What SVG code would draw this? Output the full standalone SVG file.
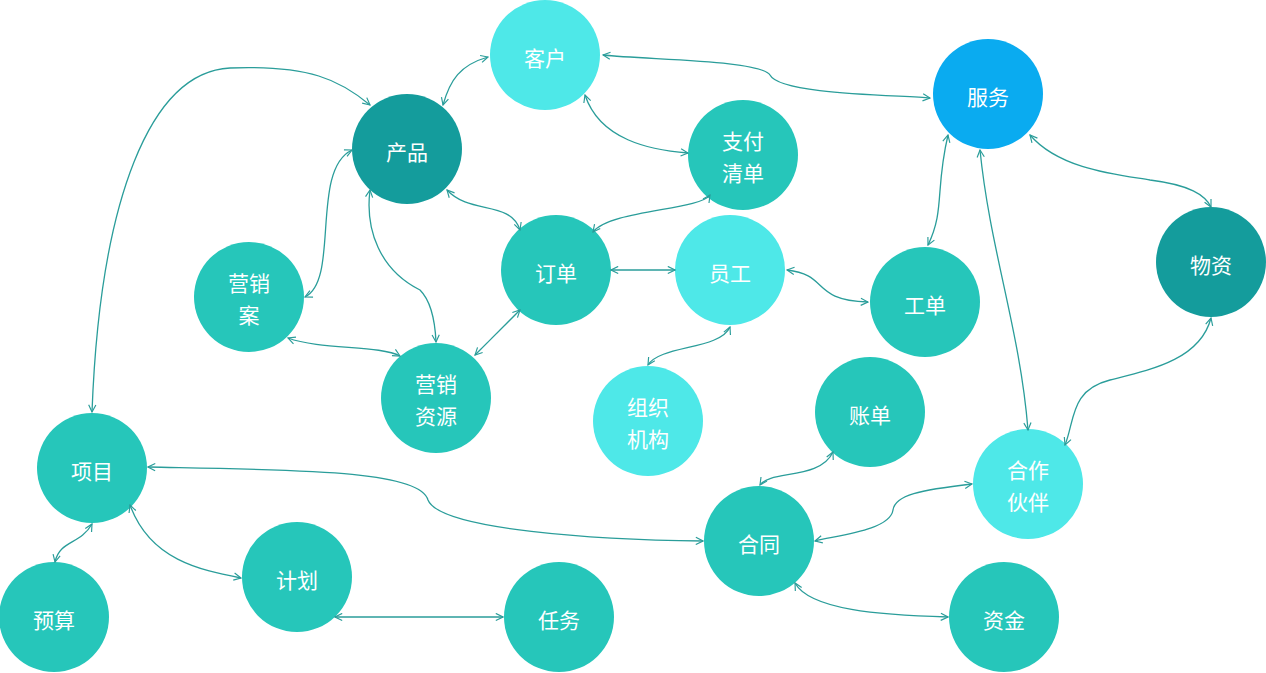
<svg xmlns="http://www.w3.org/2000/svg" width="1266" height="673" viewBox="0 0 1266 673">
<style>
.n text{font-family:"Noto Sans CJK SC","Noto Sans",sans-serif;font-size:21px;fill:#fff;text-anchor:middle;dominant-baseline:central}
.t{fill:#26C6BA}.l{fill:#4EE8E8}.d{fill:#149C9C}.b{fill:#0AABF0}
#edges path{fill:none;stroke:#2A9D9A;stroke-width:1.3;marker-start:url(#a);marker-end:url(#a)}
</style>
<defs><marker id="a" viewBox="0 0 10 10" refX="9" refY="5" markerWidth="9" markerHeight="9" markerUnits="userSpaceOnUse" orient="auto-start-reverse"><path d="M1,1 L9,5 L1,9" fill="none" stroke="#2A9D9A" stroke-width="1.3"/></marker></defs>
<g class="n">
<g id="kehu"><circle class="l" cx="545" cy="55" r="55"/><text x="545" y="57">客户</text></g>
<g id="fuwu"><circle class="b" cx="988" cy="94" r="55"/><text x="988" y="96">服务</text></g>
<g id="chanpin"><circle class="d" cx="407" cy="149" r="55"/><text x="407" y="151">产品</text></g>
<g id="zhifu"><circle class="t" cx="743" cy="155" r="55"/><text x="743" y="140">支付</text><text x="743" y="172">清单</text></g>
<g id="yingxiaoan"><circle class="t" cx="249" cy="297" r="55"/><text x="249" y="282">营销</text><text x="249" y="314">案</text></g>
<g id="dingdan"><circle class="t" cx="556" cy="270" r="55"/><text x="556" y="272">订单</text></g>
<g id="yuangong"><circle class="l" cx="730" cy="270" r="55"/><text x="730" y="272">员工</text></g>
<g id="gongdan"><circle class="t" cx="925" cy="302" r="55"/><text x="925" y="304">工单</text></g>
<g id="wuzi"><circle class="d" cx="1211" cy="262" r="55"/><text x="1211" y="264">物资</text></g>
<g id="ziyuan"><circle class="t" cx="436" cy="398" r="55"/><text x="436" y="383">营销</text><text x="436" y="415">资源</text></g>
<g id="zuzhi"><circle class="l" cx="648" cy="421" r="55"/><text x="648" y="406">组织</text><text x="648" y="438">机构</text></g>
<g id="zhangdan"><circle class="t" cx="870" cy="412" r="55"/><text x="870" y="414">账单</text></g>
<g id="huoban"><circle class="l" cx="1028" cy="484" r="55"/><text x="1028" y="469">合作</text><text x="1028" y="501">伙伴</text></g>
<g id="xiangmu"><circle class="t" cx="92" cy="468" r="55"/><text x="92" y="470">项目</text></g>
<g id="hetong"><circle class="t" cx="759" cy="541" r="55"/><text x="759" y="543">合同</text></g>
<g id="jihua"><circle class="t" cx="297" cy="577" r="55"/><text x="297" y="579">计划</text></g>
<g id="yusuan"><circle class="t" cx="54" cy="617" r="55"/><text x="54" y="619">预算</text></g>
<g id="renwu"><circle class="t" cx="559" cy="617" r="55"/><text x="559" y="619">任务</text></g>
<g id="zijin"><circle class="t" cx="1004" cy="617" r="55"/><text x="1004" y="619">资金</text></g>
</g>
<g id="edges">
<path d="M488,57 C460,65 450,80 443,105"/>
<path d="M603,55 C650,60 760,60 770,75 C780,95 900,95 930,98"/>
<path d="M585,95 C600,140 650,150 688,153"/>
<path d="M447,190 C470,215 510,200 520,230"/>
<path d="M710,195 C700,210 610,210 593,232"/>
<path d="M352,150 C310,170 340,280 305,297"/>
<path d="M370,190 C365,230 380,270 420,290 C430,300 435,320 436,342"/>
<path d="M288,338 C320,350 380,345 400,356"/>
<path d="M520,310 C500,330 490,340 475,355"/>
<path d="M611,270 L675,270"/>
<path d="M787,270 C830,275 810,300 868,302"/>
<path d="M730,327 C720,350 660,345 648,365"/>
<path d="M948,135 C935,190 945,210 928,245"/>
<path d="M980,150 C990,250 1020,330 1028,430"/>
<path d="M1030,135 C1060,170 1120,175 1150,180 C1190,185 1205,195 1211,207"/>
<path d="M1211,318 C1200,360 1150,370 1110,380 C1070,390 1075,420 1065,445"/>
<path d="M370,105 C340,80 310,65 230,68 C150,72 100,200 92,412"/>
<path d="M148,467 C300,470 420,470 428,500 C440,530 600,540 703,541"/>
<path d="M92,524 C80,545 60,540 55,562"/>
<path d="M130,505 C150,560 200,570 241,578"/>
<path d="M335,617 L503,617"/>
<path d="M833,452 C820,480 770,470 760,485"/>
<path d="M972,484 C920,490 895,495 893,510 C890,530 840,535 815,541"/>
<path d="M795,583 C810,610 880,615 948,617"/>
</g>
</svg>
